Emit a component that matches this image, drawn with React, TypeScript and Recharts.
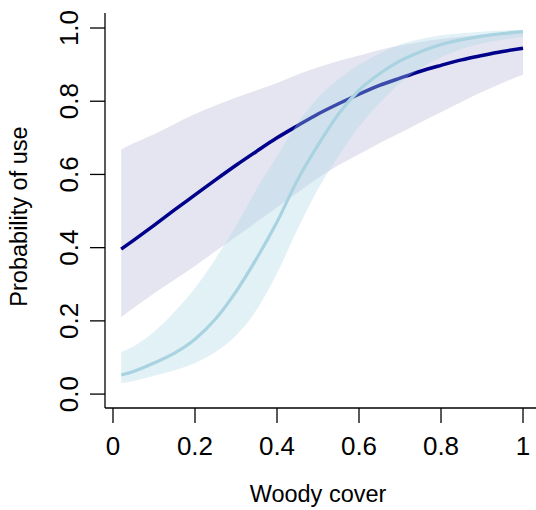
import { ComposedChart, Area, Line, XAxis, YAxis, Label } from 'recharts'

// woody cover values where the fitted curves were read
const woody = [0.02, 0.05, 0.1, 0.15, 0.2, 0.25, 0.3, 0.35, 0.4, 0.45, 0.5, 0.55, 0.6, 0.65, 0.7, 0.75, 0.8, 0.85, 0.9, 0.95, 1.0]

// dark (navy) fit + interval
const darkMean = [0.396, 0.42, 0.461, 0.503, 0.544, 0.585, 0.625, 0.663, 0.7, 0.733, 0.765, 0.793, 0.819, 0.843, 0.863, 0.882, 0.898, 0.913, 0.925, 0.936, 0.945]
const darkLow = [0.21, 0.235, 0.275, 0.312, 0.35, 0.39, 0.43, 0.47, 0.51, 0.55, 0.59, 0.625, 0.655, 0.685, 0.713, 0.742, 0.77, 0.798, 0.825, 0.85, 0.872]
const darkHigh = [0.668, 0.685, 0.71, 0.738, 0.765, 0.788, 0.81, 0.83, 0.85, 0.873, 0.893, 0.91, 0.925, 0.94, 0.952, 0.962, 0.97, 0.976, 0.981, 0.985, 0.988]

// light blue fit + interval
const lightMean = [0.052, 0.062, 0.085, 0.112, 0.15, 0.205, 0.28, 0.37, 0.47, 0.585, 0.68, 0.765, 0.83, 0.875, 0.91, 0.935, 0.955, 0.968, 0.978, 0.985, 0.99]
const lightLow = [0.03, 0.036, 0.05, 0.065, 0.085, 0.115, 0.16, 0.23, 0.33, 0.45, 0.56, 0.65, 0.73, 0.795, 0.85, 0.89, 0.92, 0.943, 0.958, 0.968, 0.976]
const lightHigh = [0.115, 0.13, 0.17, 0.225, 0.29, 0.37, 0.46, 0.56, 0.65, 0.74, 0.81, 0.86, 0.9, 0.93, 0.955, 0.97, 0.98, 0.986, 0.99, 0.993, 0.995]

const xTicks = [0, 0.2, 0.4, 0.6, 0.8, 1]
const yTicks = [0, 0.2, 0.4, 0.6, 0.8, 1]

const data = woody.map((x, i) => ({
  x,
  dMean: darkMean[i],
  dBand: [darkLow[i], darkHigh[i]],
  lMean: lightMean[i],
  lBand: [lightLow[i], lightHigh[i]],
}))

const FONT = '"Liberation Sans", Arial, Helvetica, sans-serif'
const X_DOMAIN = [-0.0195, 1.039]
const Y_DOMAIN = [-0.038, 1.041]

function YTick(props: any) {
  const { x, y, payload } = props
  return (
    <text x={x} y={y} transform={`rotate(-90 ${x} ${y})`} textAnchor="middle" fontSize={26} fill="#000" fontFamily={FONT}>
      {payload.value.toFixed(1)}
    </text>
  )
}

function XTitle(props: any) {
  const vb = props.viewBox
  return (
    <text x={vb.x + vb.width / 2 - 4} y={vb.y + 94} textAnchor="middle" fontSize={23.5} fill="#000" fontFamily={FONT}>
      Woody cover
    </text>
  )
}

function YTitle(props: any) {
  const vb = props.viewBox
  const cx = 27
  const cy = vb.y + vb.height / 2 + 6
  return (
    <text x={cx} y={cy} transform={`rotate(-90 ${cx} ${cy})`} textAnchor="middle" fontSize={23.5} fill="#000" fontFamily={FONT}>
      Probability of use
    </text>
  )
}

export default function App() {
  return (
    <div style={{ position: 'fixed', left: 0, top: 0, width: 536, height: 510, overflow: 'hidden', background: '#fff' }}>
      <ComposedChart width={545} height={510} data={data} margin={{ top: 13, right: 6, bottom: 0, left: 0 }}>
        <XAxis
          dataKey="x"
          type="number"
          domain={X_DOMAIN}
          allowDataOverflow
          ticks={xTicks}
          tickFormatter={(v: number) => String(v)}
          height={102}
          tickSize={15}
          tickMargin={14}
          stroke="#000"
          strokeWidth={1.3}
          tick={{ fontSize: 26, fill: '#000', fontFamily: FONT }}
        >
          <Label content={XTitle} />
        </XAxis>
        <XAxis
          xAxisId="top"
          orientation="top"
          dataKey="x"
          type="number"
          domain={X_DOMAIN}
          allowDataOverflow
          height={0}
          tick={false}
          tickLine={false}
          stroke="#000"
          strokeWidth={1.3}
        />
        <YAxis
          type="number"
          domain={Y_DOMAIN}
          allowDataOverflow
          ticks={yTicks}
          width={105}
          tickSize={15}
          tickMargin={12}
          stroke="#000"
          strokeWidth={1.3}
          tick={YTick}
        >
          <Label content={YTitle} />
        </YAxis>
        <Area dataKey="dBand" type="monotone" stroke="none" fill="#000080" fillOpacity={0.1} isAnimationActive={false} activeDot={false} zIndex={100} />
        <Line dataKey="dMean" type="monotone" stroke="#00008B" strokeWidth={3.5} dot={false} activeDot={false} isAnimationActive={false} zIndex={101} />
        <Area dataKey="lBand" type="monotone" stroke="none" fill="#ADD8E6" fillOpacity={0.35} isAnimationActive={false} activeDot={false} zIndex={102} />
        <Line dataKey="lMean" type="monotone" stroke="#A9D3E0" strokeWidth={3.2} dot={false} activeDot={false} isAnimationActive={false} zIndex={103} />
      </ComposedChart>
    </div>
  )
}
